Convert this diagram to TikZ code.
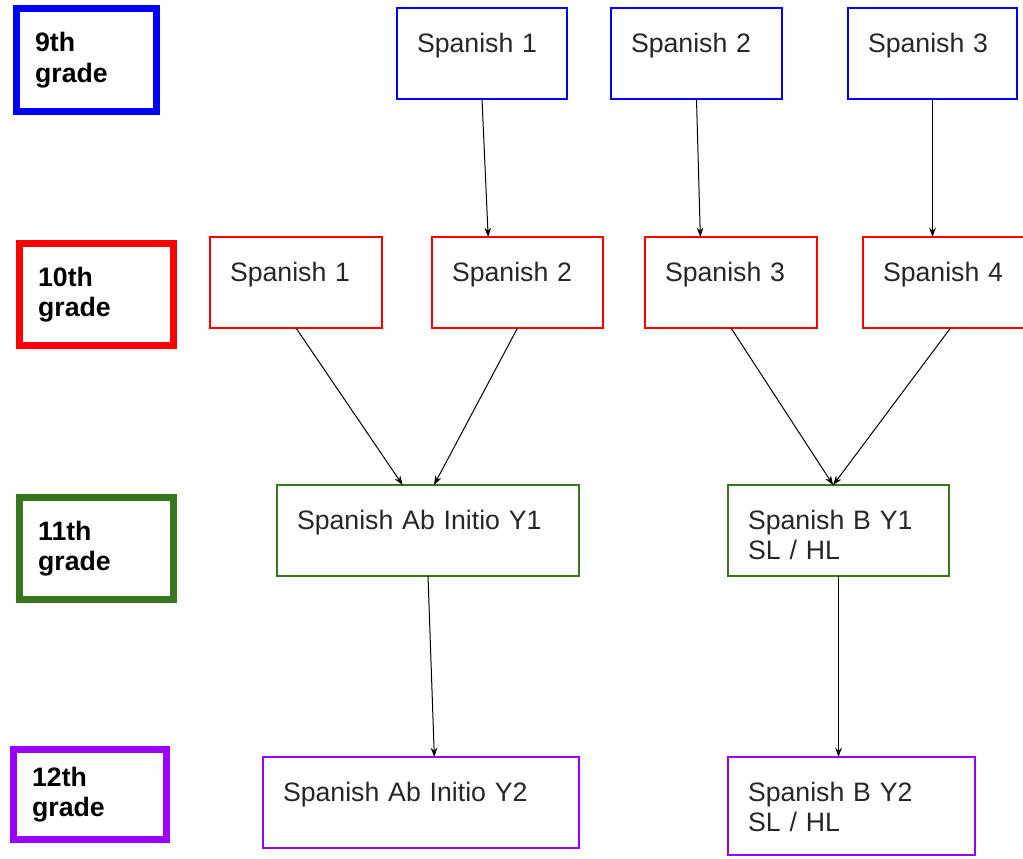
\documentclass[tikz,border=0pt]{standalone}
\usepackage{fontspec}
\setmainfont{Liberation Sans}
\usetikzlibrary{arrows.meta}
\definecolor{blueNine}{HTML}{0000FF}
\definecolor{redTen}{HTML}{FF0000}
\definecolor{greenEleven}{HTML}{38761D}
\definecolor{purpleTwelve}{HTML}{9900FF}
\tikzset{
    course/.style={draw, line width=1.5pt, anchor=north west, outer sep=0pt, inner xsep=15pt, inner ysep=0pt,
        text height=33pt, text depth=35.25pt, align=left, text width=#1,
        font=\fontsize{20}{23}\selectfont, text=black!85},
    grade/.style={draw, line width=5pt, anchor=north west, outer sep=0pt, inner xsep=14pt, align=left,
        font=\fontsize{20}{23}\selectfont\bfseries},
    link/.style={-{Stealth[length=7pt,width=5pt]}, line width=0.75pt}
}
\begin{document}
\begin{tikzpicture}[x=0.75pt, y=-0.75pt]
    \useasboundingbox (0,0) rectangle (1023,858);
    \clip (0,0) rectangle (1023,858);
    \node[grade, draw=blueNine, text width=77pt, minimum height=77.25pt] (g9) at (16.5,8.5) {9th\\grade};
    \node[grade, draw=redTen, text width=87.5pt, minimum height=76.5pt] (g10) at (19.5,243.5) {10th\\grade};
    \node[grade, draw=greenEleven, text width=87.5pt, minimum height=76.5pt] (g11) at (19.5,497.5) {11th\\grade};
    \node[grade, draw=purpleTwelve, text width=86.75pt, minimum height=67.5pt] (g12) at (13.5,749.5) {12th\\grade};
    \node[course=97.5pt, draw=blueNine] (s9a) at (397,8) {Spanish 1};
    \node[course=98.25pt, draw=blueNine] (s9b) at (611,8) {Spanish 2};
    \node[course=96.75pt, draw=blueNine] (s9c) at (848,8) {Spanish 3};
    \node[course=99pt, draw=redTen] (s10a) at (210,237) {Spanish 1};
    \node[course=98.25pt, draw=redTen] (s10b) at (432,237) {Spanish 2};
    \node[course=99pt, draw=redTen] (s10c) at (645,237) {Spanish 3};
    \node[course=101.25pt, draw=redTen] (s10d) at (863,237) {Spanish 4};
    \node[course=196.5pt, draw=greenEleven] (abOne) at (277,485) {Spanish Ab Initio Y1};
    \node[course=135.75pt, draw=greenEleven] (bOne) at (728,485) {Spanish B Y1\\SL / HL};
    \node[course=207pt, draw=purpleTwelve] (abTwo) at (263,757) {Spanish Ab Initio Y2};
    \node[course=155.25pt, draw=purpleTwelve, text depth=40.5pt] (bTwo) at (728,757) {Spanish B Y2\\SL / HL};
    \draw[link] (s9a.south) -- ([xshift=-22pt]s10b.north);
    \draw[link] (s9b.south) -- ([xshift=-23pt]s10c.north);
    \draw[link] (s9c.south) -- (s9c.south |- s10d.north);
    \draw[link] (s10a.south) -- ([xshift=-19pt]abOne.north);
    \draw[link] (s10b.south) -- ([xshift=4.5pt]abOne.north);
    \draw[link] (s10c.south) -- ([xshift=-4pt]bOne.north);
    \draw[link] (s10d.south) -- ([xshift=-4pt]bOne.north);
    \draw[link] (abOne.south) -- ([xshift=10pt]abTwo.north);
    \draw[link] (bOne.south) -- (bOne.south |- bTwo.north);
\end{tikzpicture}
\end{document}
